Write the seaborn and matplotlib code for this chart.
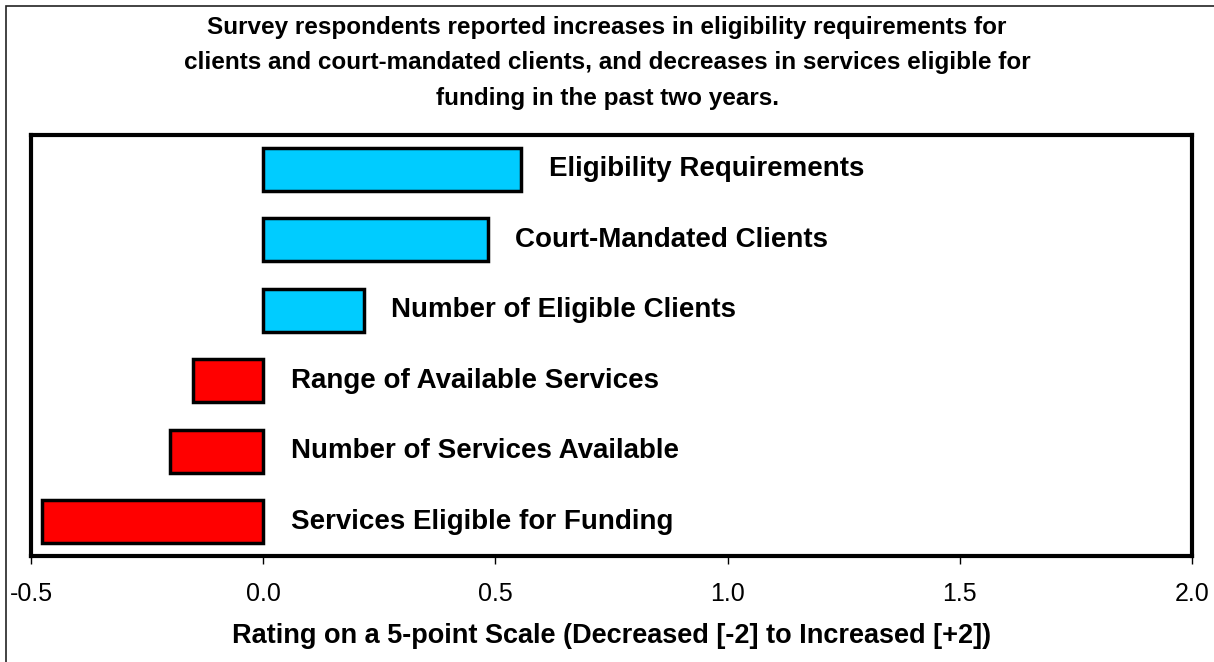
import numpy as np
import pandas as pd
import matplotlib
matplotlib.use("Agg")
import matplotlib.pyplot as plt
import matplotlib.transforms as mtransforms
from matplotlib.patches import Rectangle
import seaborn as sns

# dados
categorias = [
    "Eligibility Requirements",
    "Court-Mandated Clients",
    "Number of Eligible Clients",
    "Range of Available Services",
    "Number of Services Available",
    "Services Eligible for Funding",
]
valores = [0.556, 0.483, 0.216, -0.151, -0.200, -0.476]
cores = ["#00CCFF", "#00CCFF", "#00CCFF", "#FF0000", "#FF0000", "#FF0000"]
ticks_x = [-0.5, 0.0, 0.5, 1.0, 1.5, 2.0]

titulo = ("Survey respondents reported increases in eligibility requirements for\n"
          "clients and court-mandated clients, and decreases in services eligible for\n"
          "funding in the past two years.")
rotulo_x = "Rating on a 5-point Scale (Decreased [-2] to Increased [+2])"

df = pd.DataFrame({"categoria": categorias, "valor": valores})

sns.set_style("white")
plt.rcParams["font.family"] = ["Liberation Sans", "DejaVu Sans"]
plt.rcParams["text.color"] = "black"
plt.rcParams["axes.labelcolor"] = "black"
plt.rcParams["xtick.color"] = "black"

fig = plt.figure(figsize=(12.14, 6.62), dpi=100)
ax = fig.add_axes([31 / 1214, 1 - 556 / 662, (1192 - 31) / 1214, (556 - 135) / 662])

sns.barplot(
    data=df, x="valor", y="categoria", hue="categoria",
    palette=dict(zip(categorias, cores)), legend=False, saturation=1,
    orient="h", width=0.61, edgecolor="black", linewidth=2.5, ax=ax,
)

ax.set_xlim(-0.5, 2.0)
ax.set_ylim(5.49, -0.49)
ax.set_xticks(ticks_x)
ax.set_xticklabels([f"{t:.1f}" for t in ticks_x], fontsize=18)
ax.set_yticks([])
ax.set_ylabel("")
ax.set_xlabel(rotulo_x, fontsize=19.5, fontweight="bold", labelpad=12)
ax.tick_params(axis="x", bottom=True, length=6, width=1, direction="out", pad=13)

for s in ax.spines.values():
    s.set_visible(True)
    s.set_color("black")
    s.set_linewidth(3)

# rótulos ao lado das barras
desloc = mtransforms.offset_copy(ax.transData, fig=fig, x=20, y=0, units="points")
for i, (cat, v) in enumerate(zip(categorias, valores)):
    ax.text(max(v, 0), i, cat, transform=desloc, ha="left", va="center",
            fontsize=20, fontweight="bold")

fig.text(0.5, 1 - 63 / 662, titulo, ha="center", va="center",
         fontsize=17.5, fontweight="bold", linespacing=1.7)

# moldura externa
fig.patches.append(Rectangle((6 / 1214, -0.1), 1.2, 1 - 6 / 662 + 0.1,
                             transform=fig.transFigure, fill=False,
                             edgecolor="#222222", linewidth=1.2))

fig.savefig("out.png", dpi=100)
